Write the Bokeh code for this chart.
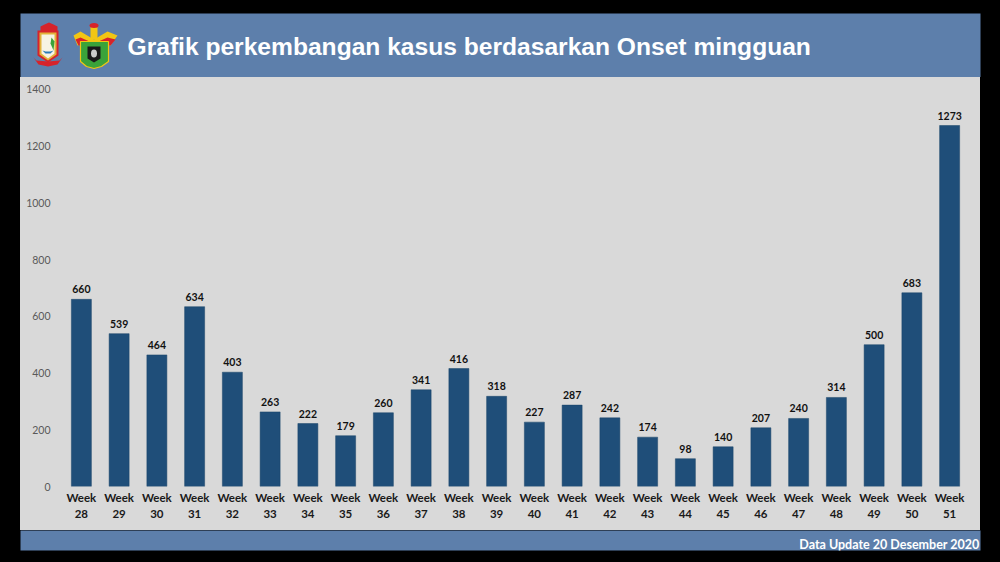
from bokeh.plotting import figure
from bokeh.models import ColumnDataSource, Range1d, FactorRange, FixedTicker, Spacer, Row, Column
from bokeh.core.properties import value
from bokeh.embed import file_html
from bokeh.resources import INLINE

weeks = ["28", "29", "30", "31", "32", "33", "34", "35", "36", "37", "38", "39",
         "40", "41", "42", "43", "44", "45", "46", "47", "48", "49", "50", "51"]
cases = [660, 539, 464, 634, 403, 263, 222, 179, 260, 341, 416, 318,
         227, 287, 242, 174, 98, 140, 207, 240, 314, 500, 683, 1273]
y_ticks = [0, 200, 400, 600, 800, 1000, 1200, 1400]
title_text = "Grafik perkembangan kasus berdasarkan Onset mingguan"
footer_text = "Data Update 20 Desember 2020"

labels = ["Week\n" + w for w in weeks]

BLUE_BAND = "#5d7fab"
GRAY = "#d9d9d9"
BAR = "#1f4e79"

# ---------- header ----------
hdr = figure(width=1000, height=77, x_range=Range1d(0, 960), y_range=Range1d(0, 64),
             output_backend="svg", toolbar_location=None,
             x_axis_location=None, y_axis_location=None,
             min_border_left=20, min_border_right=20, min_border_top=13, min_border_bottom=0)
hdr.background_fill_color = BLUE_BAND
hdr.border_fill_color = "black"
hdr.outline_line_color = None
hdr.xgrid.visible = False
hdr.ygrid.visible = False

# logo 1 (red crown, white shield, red ribbon)
hdr.patch(x=[20, 20, 24, 28.5, 33, 37, 37], y=[44, 51, 53, 55, 53, 51, 44], fill_color="#d6232a", line_color=None)
hdr.patch(x=[17, 17, 27.5, 38, 38], y=[47, 22, 15, 22, 47], fill_color="#d6232a", line_color=None)
hdr.patch(x=[19, 19, 27.5, 36, 36], y=[45, 23, 17, 23, 45], fill_color="#e2b33a", line_color=None)
hdr.patch(x=[21, 21, 27.5, 34, 34], y=[43, 24, 19, 24, 43], fill_color="#f7f3e3", line_color=None)
hdr.patch(x=[22, 25, 30, 33, 30, 25], y=[27, 24, 24, 27, 26, 26], fill_color="#2a7bb8", line_color=None)
hdr.patch(x=[31, 34, 33, 30], y=[40, 36, 27, 34], fill_color="#3aa33a", line_color=None)
hdr.patch(x=[13, 18, 27.5, 37, 42, 39, 27.5, 16], y=[20, 13, 11, 13, 20, 17, 16, 17], fill_color="#d6232a", line_color=None)
# logo 2 (yellow wings, green shield)
hdr.patch(x=[53, 60, 73.5, 87, 97, 90, 73.5, 57], y=[42, 46, 38, 46, 42, 32, 35, 32], fill_color="#f2c613", line_color=None)
hdr.patch(x=[55, 60, 73.5, 87, 95, 90, 73.5, 58], y=[38, 40, 34, 40, 38, 32, 33, 32], fill_color="#d6232a", line_color=None)
hdr.quad(left=[70], right=[77], bottom=[38], top=[51], fill_color="#f2c613", line_color=None)
hdr.ellipse(x=[73.5], y=[52], width=[9], height=[5], fill_color="#d6232a", line_color=None)
hdr.patch(x=[60, 60, 66, 73.5, 81, 88, 88], y=[36, 16, 11, 9, 11, 16, 36], fill_color="#3aa33a", line_color="#f2c613", line_width=1.2)
hdr.patch(x=[67, 67, 73.5, 80, 80], y=[31, 19, 15, 19, 31], fill_color="#1a1a1a", line_color=None)
hdr.ellipse(x=[73.5], y=[24], width=[6], height=[8], fill_color="#cccccc", line_color=None)

hdr.text(x=[107], y=[31], text=[title_text], text_color="white",
         text_font=value("Liberation Sans"), text_font_style="bold", text_font_size="24.6px",
         text_align="left", text_baseline="alphabetic")

# ---------- main chart ----------
src = ColumnDataSource(dict(label=labels, cases=cases, txt=[str(c) for c in cases]))

p = figure(width=960, height=453, x_range=FactorRange(*labels, range_padding=0),
           y_range=Range1d(0, 1417.6), output_backend="svg", toolbar_location=None,
           min_border_left=42, min_border_right=12, min_border_top=7, min_border_bottom=44)
p.background_fill_color = None
p.border_fill_color = None
p.styles = {"background-color": GRAY}
p.outline_line_color = None
p.xgrid.visible = False
p.ygrid.visible = False

p.vbar(x="label", top="cases", width=0.53, source=src, fill_color=BAR, line_color="#1a4468", line_width=0.5)
p.text(x="label", y="cases", text="txt", source=src, y_offset=-6,
       text_align="center", text_baseline="bottom", text_color="#111111",
       text_font=value("Lato"), text_font_style="bold", text_font_size="10.5px")

p.yaxis.ticker = FixedTicker(ticks=y_ticks)
p.yaxis.axis_line_color = None
p.yaxis.major_tick_line_color = None
p.yaxis.major_tick_out = 0
p.yaxis.minor_tick_line_color = None
p.yaxis.minor_tick_out = 0
p.yaxis.major_label_standoff = 12
p.yaxis.major_label_text_font = "Lato"
p.yaxis.major_label_text_font_size = "10.5px"
p.yaxis.major_label_text_color = "#595959"

p.xaxis.axis_line_color = None
p.xaxis.major_tick_line_color = None
p.xaxis.major_tick_out = 0
p.xaxis.major_label_standoff = 4
p.xaxis.major_label_text_font = "Lato"
p.xaxis.major_label_text_font_style = "bold"
p.xaxis.major_label_text_font_size = "11.5px"
p.xaxis.major_label_text_color = "#1a1a1a"
p.xaxis.major_label_text_line_height = 1.25

mid = Row(children=[Spacer(width=20, height=453, styles={"background-color": "black"}), p,
                    Spacer(width=20, height=453, styles={"background-color": "black"})],
          styles={"background-color": "black"})

# ---------- footer ----------
ftr = figure(width=1000, height=32, x_range=Range1d(0, 960), y_range=Range1d(0, 20),
             output_backend="svg", toolbar_location=None,
             x_axis_location=None, y_axis_location=None,
             min_border_left=20, min_border_right=20, min_border_top=0, min_border_bottom=12)
ftr.background_fill_color = BLUE_BAND
ftr.border_fill_color = "black"
ftr.outline_line_color = None
ftr.xgrid.visible = False
ftr.ygrid.visible = False
ftr.text(x=[959], y=[6], text=[footer_text], text_color="white",
         text_font=value("Lato"), text_font_style="bold", text_font_size="12.5px",
         text_align="right", text_baseline="alphabetic")

root = Column(children=[hdr, mid, ftr], styles={"background-color": "black"})

open("out.html", "w").write(file_html(root, INLINE))
